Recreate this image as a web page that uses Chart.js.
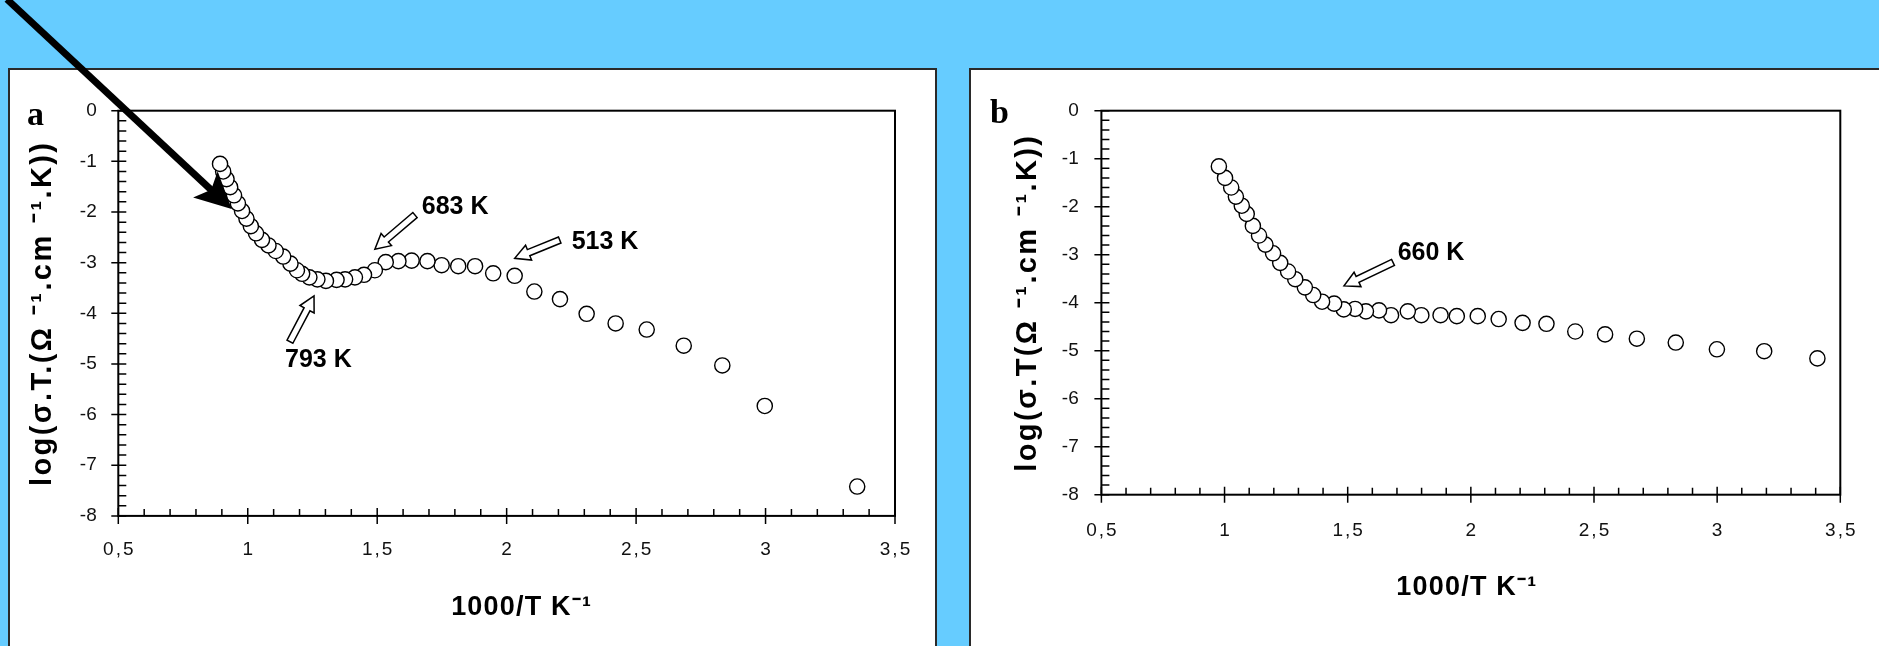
<!DOCTYPE html>
<html><head><meta charset="utf-8">
<script src="https://cdn.jsdelivr.net/npm/chart.js@4.4.1/dist/chart.umd.min.js"></script>
<style>
html,body{margin:0;padding:0;width:1879px;height:646px;overflow:hidden;background:#66CCFF;}
.panel{position:absolute;background:#fff;border:2px solid #2a2a2a;box-sizing:border-box;}
#pa{left:8px;top:68px;width:929px;height:640px;}
#pb{left:969px;top:68px;width:960px;height:640px;}
canvas{position:absolute;top:0;}
#ca{left:0;}
#cb{left:950px;}
</style></head><body>
<div class="panel" id="pa"></div><div class="panel" id="pb"></div>
<canvas id="ca" width="950" height="646"></canvas>
<canvas id="cb" width="929" height="646"></canvas>
<script>
// ---- tick values / labels ----
const xTickValues = [0.5, 1, 1.5, 2, 2.5, 3, 3.5];
const xTickLabels = ['0,5', '1', '1,5', '2', '2,5', '3', '3,5'];
const yTickValues = [-8, -7, -6, -5, -4, -3, -2, -1, 0];
const yTickLabels = ['-8', '-7', '-6', '-5', '-4', '-3', '-2', '-1', '0'];

// ---- panel a data (1000/T, log(sigma.T)) ----
const xA = [0.893,0.905,0.918,0.932,0.947,0.962,0.978,0.995,1.012,1.032,1.055,1.080,1.108,1.137,1.165,1.190,1.210,1.238,1.269,1.302,1.343,1.376,1.414,1.449,1.491,1.533,1.582,1.633,1.694,1.749,1.813,1.878,1.948,2.031,2.107,2.206,2.309,2.421,2.541,2.684,2.833,2.997,3.354];
const yA = [-1.05,-1.20,-1.35,-1.51,-1.67,-1.83,-1.98,-2.13,-2.28,-2.42,-2.55,-2.66,-2.77,-2.88,-3.02,-3.15,-3.22,-3.29,-3.33,-3.36,-3.34,-3.33,-3.29,-3.24,-3.15,-2.99,-2.97,-2.96,-2.97,-3.05,-3.07,-3.07,-3.21,-3.26,-3.57,-3.72,-4.01,-4.20,-4.32,-4.64,-5.03,-5.83,-7.42];

// ---- panel b data ----
const xB = [0.977,1.002,1.027,1.046,1.070,1.090,1.115,1.140,1.166,1.197,1.226,1.258,1.287,1.326,1.360,1.396,1.445,1.484,1.530,1.574,1.627,1.676,1.744,1.799,1.877,1.943,2.028,2.113,2.210,2.307,2.424,2.545,2.674,2.832,2.999,3.191,3.407];
const yB = [-1.16,-1.40,-1.60,-1.79,-1.98,-2.15,-2.40,-2.60,-2.79,-2.97,-3.17,-3.35,-3.51,-3.68,-3.84,-3.98,-4.02,-4.14,-4.13,-4.18,-4.16,-4.26,-4.18,-4.26,-4.26,-4.28,-4.28,-4.34,-4.42,-4.44,-4.60,-4.66,-4.75,-4.83,-4.97,-5.01,-5.16];

// ---- texts ----
const xTitle = '1000/T K⁻¹';
const yTitleA = 'log(σ.T.(Ω ⁻¹.cm ⁻¹.K))';
const yTitleB = 'log(σ.T(Ω ⁻¹.cm ⁻¹.K))';

// ---- annotations (data units) ----
const notesA = [
  {text:'683 K', tx:1.672, ty:-1.90, from:[1.646,-2.06], to:[1.491,-2.736]},
  {text:'513 K', tx:2.251, ty:-2.59, from:[2.205,-2.553], to:[2.031,-2.914]},
  {text:'793 K', tx:1.144, ty:-4.92, from:[1.163,-4.561], to:[1.256,-3.658]}
];
const bigArrowA = {from:[0.07, 2.2], to:[0.938, -1.941]};
const notesB = [
  {text:'660 K', tx:1.703, ty:-2.97, from:[1.684,-3.16], to:[1.485,-3.65]}
];

const FONT = '"Liberation Sans", Arial, Helvetica, sans-serif';

const frameTicks = {
  id: 'frameTicks',
  beforeDatasetsDraw(chart) {
    const {ctx, chartArea: {left, right, top, bottom}, scales: {x, y}} = chart;
    ctx.save();
    ctx.strokeStyle = '#000';
    ctx.lineWidth = 2;
    ctx.strokeRect(left, top, right - left, bottom - top);
    ctx.lineWidth = 1.5;
    ctx.beginPath();
    for (let i = 0; i <= 30; i++) {
      const px = x.getPixelForValue(0.5 + i * 0.1);
      if (i % 5 === 0) { ctx.moveTo(px, bottom - 8); ctx.lineTo(px, bottom + 8); }
      else { ctx.moveTo(px, bottom); ctx.lineTo(px, bottom - 7); }
    }
    for (let i = 0; i <= 40; i++) {
      const py = y.getPixelForValue(-i * 0.2);
      if (i % 5 === 0) { ctx.moveTo(left - 7, py); ctx.lineTo(left + 8, py); }
      else { ctx.moveTo(left, py); ctx.lineTo(left + 8, py); }
    }
    ctx.stroke();
    ctx.restore();
  }
};

// spacing / shift for the axis titles and x labels (drawn by Chart.js itself)
const titleStyle = {
  id: 'titleStyle',
  afterLayout(chart, args, opts) {
    ['x', 'y'].forEach(id => {
      const s = chart.scales[id];
      if (!s || s._styled) return;
      const orig = s.drawTitle;
      const cfg = opts[id] || {};
      s.drawTitle = function () {
        const c = this.ctx;
        c.save();
        c.letterSpacing = (cfg.spacing || 0) + 'px';
        c.translate(cfg.dx || 0, 0);
        orig.call(this);
        c.restore();
      };
      if (cfg.labelSpacing) {
        const origL = s.drawLabels;
        s.drawLabels = function (area) {
          const c = this.ctx;
          c.save();
          c.letterSpacing = cfg.labelSpacing + 'px';
          c.translate(cfg.labelSpacing / 2, 0);
          origL.call(this, area);
          c.restore();
        };
      }
      s._styled = true;
    });
  }
};

function hollowArrow(ctx, x1, y1, x2, y2) {
  const dx = x2 - x1, dy = y2 - y1, len = Math.hypot(dx, dy);
  const ux = dx / len, uy = dy / len, nx = -uy, ny = ux;
  const L = 15, hw = 8, sw = 3.3;
  const bx = x2 - ux * L, by = y2 - uy * L;
  ctx.beginPath();
  ctx.moveTo(x1 + nx * sw, y1 + ny * sw);
  ctx.lineTo(bx + nx * sw, by + ny * sw);
  ctx.lineTo(bx + nx * hw, by + ny * hw);
  ctx.lineTo(x2, y2);
  ctx.lineTo(bx - nx * hw, by - ny * hw);
  ctx.lineTo(bx - nx * sw, by - ny * sw);
  ctx.lineTo(x1 - nx * sw, y1 - ny * sw);
  ctx.closePath();
  ctx.fillStyle = '#fff';
  ctx.fill();
  ctx.strokeStyle = '#000';
  ctx.lineWidth = 1.5;
  ctx.stroke();
}

function solidArrow(ctx, x1, y1, x2, y2) {
  const dx = x2 - x1, dy = y2 - y1, len = Math.hypot(dx, dy);
  const ux = dx / len, uy = dy / len, nx = -uy, ny = ux;
  const L = 36, hw = 18;
  const bx = x2 - ux * L, by = y2 - uy * L;
  ctx.beginPath();
  ctx.moveTo(x1, y1);
  ctx.lineTo(x2 - ux * L * 0.7, y2 - uy * L * 0.7);
  ctx.strokeStyle = '#000';
  ctx.lineWidth = 7;
  ctx.stroke();
  ctx.beginPath();
  ctx.moveTo(x2, y2);
  ctx.lineTo(bx + nx * hw, by + ny * hw);
  ctx.lineTo(x2 - ux * L * 0.78, y2 - uy * L * 0.78);
  ctx.lineTo(bx - nx * hw, by - ny * hw);
  ctx.closePath();
  ctx.fillStyle = '#000';
  ctx.fill();
}

const annot = {
  id: 'annot',
  afterDatasetsDraw(chart, args, opts) {
    const {ctx, scales: {x, y}} = chart;
    ctx.save();
    (opts.notes || []).forEach(n => {
      hollowArrow(ctx, x.getPixelForValue(n.from[0]), y.getPixelForValue(n.from[1]),
                       x.getPixelForValue(n.to[0]), y.getPixelForValue(n.to[1]));
      ctx.fillStyle = '#000';
      ctx.font = 'bold 25px ' + FONT;
      ctx.textAlign = 'left';
      ctx.textBaseline = 'middle';
      ctx.fillText(n.text, x.getPixelForValue(n.tx), y.getPixelForValue(n.ty));
    });
    if (opts.big) {
      solidArrow(ctx, x.getPixelForValue(opts.big.from[0]), y.getPixelForValue(opts.big.from[1]),
                      x.getPixelForValue(opts.big.to[0]), y.getPixelForValue(opts.big.to[1]));
    }
    if (opts.letter) {
      ctx.fillStyle = '#000';
      ctx.font = 'bold 34px "Liberation Serif", "Times New Roman", serif';
      ctx.textAlign = 'left';
      ctx.textBaseline = 'alphabetic';
      ctx.fillText(opts.letter.text, opts.letter.px, opts.letter.py);
    }
    ctx.restore();
  }
};

function makeChart(canvasId, cfg) {
  const pts = cfg.xs.map((v, i) => ({x: v, y: cfg.ys[i]})).reverse();
  return new Chart(document.getElementById(canvasId), {
    type: 'scatter',
    data: {datasets: [{
      data: pts, showLine: false,
      pointRadius: 7.6, pointHoverRadius: 7.6,
      pointBackgroundColor: '#fff', pointBorderColor: '#000', pointBorderWidth: 1.4
    }]},
    options: {
      responsive: false, animation: false, devicePixelRatio: 1,
      events: [],
      layout: {padding: {left: cfg.padL, right: cfg.padR, top: 110.7, bottom: 10}},
      plugins: {legend: {display: false}, tooltip: {enabled: false}, annot: cfg.annot,
                titleStyle: {x: {spacing: 1.2, dx: cfg.xTitleDx, labelSpacing: 2}, y: {spacing: 2.4}}},
      scales: {
        x: {
          type: 'linear', min: 0.5, max: 3.5,
          afterBuildTicks: s => { s.ticks = xTickValues.map(v => ({value: v})); },
          afterFit: s => { s.height = cfg.xH; },
          grid: {display: false, drawTicks: false, tickLength: 0},
          border: {display: false},
          ticks: {autoSkip: false, maxRotation: 0, padding: cfg.xTickPad, color: '#111',
                  font: {family: FONT, size: 19}, callback: (v, i) => xTickLabels[i]},
          title: {display: true, text: xTitle, color: '#000',
                  font: {family: FONT, size: 27, weight: 'bold'}, padding: {top: 0, bottom: cfg.xTitlePad}}
        },
        y: {
          type: 'linear', min: -8, max: 0,
          afterBuildTicks: s => { s.ticks = yTickValues.map(v => ({value: v})); },
          afterFit: s => { s.width = cfg.yW; },
          grid: {display: false, drawTicks: false, tickLength: 0},
          border: {display: false},
          ticks: {autoSkip: false, padding: cfg.yTickPad, color: '#111',
                  font: {family: FONT, size: 19}, callback: (v, i) => yTickLabels[i]},
          title: {display: true, text: cfg.yTitle, color: '#000',
                  font: {family: FONT, size: 29, weight: 'bold'}, padding: {top: cfg.yTitlePad, bottom: 0}}
        }
      }
    },
    plugins: [frameTicks, titleStyle, annot]
  });
}

makeChart('ca', {
  xs: xA, ys: yA, padL: 15, padR: 55, yW: 103.3, xH: 120.1, xTitleDx: 15,
  xTickPad: 22.7, yTickPad: 21.6, xTitlePad: 11.8, yTitlePad: 10.6, yTitle: yTitleA,
  annot: {notes: notesA, big: bigArrowA, letter: {text: 'a', px: 27, py: 125}}
});
makeChart('cb', {
  xs: xB, ys: yB, padL: 40, padR: 38.7, yW: 111.4, xH: 141.3, xTitleDx: -4,
  xTickPad: 24.2, yTickPad: 22.7, xTitlePad: 31.8, yTitlePad: 20.6, yTitle: yTitleB,
  annot: {notes: notesB, letter: {text: 'b', px: 40, py: 123}}
});
</script>
</body></html>
